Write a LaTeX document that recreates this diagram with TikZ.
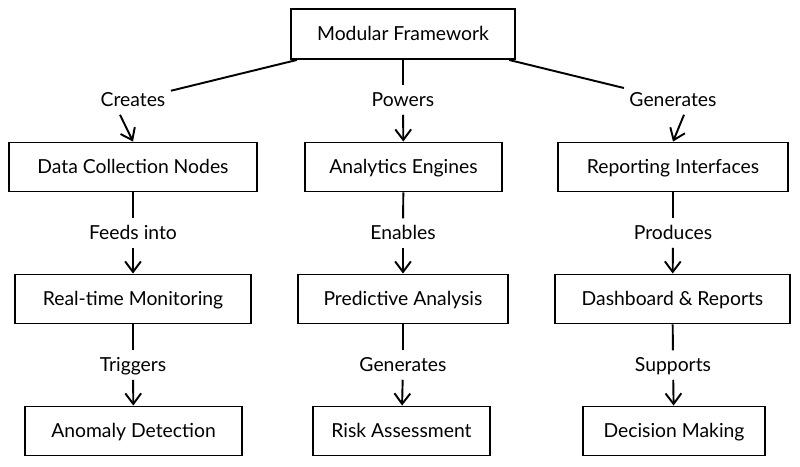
\documentclass[tikz,border=0pt]{standalone}
\usepackage{fontspec}
\setmainfont{Lato}
\usetikzlibrary{arrows.meta, positioning}

\begin{document}
\begin{tikzpicture}[
		font=\fontsize{11}{13}\selectfont,
		box/.style={draw, line width=1.1pt, minimum height=0.98cm, text height=1.8ex, text depth=0.25ex, align=center},
		lbl/.style={inner sep=3pt, fill=white, text height=1.8ex, text depth=0.25ex},
		link/.style={line width=1.1pt},
		arr/.style={line width=1.1pt, -{Straight Barb[length=6pt, width=9pt, line width=1.1pt]}}
	]
	\useasboundingbox (0,0) rectangle (16,-9.32);
	
	% Top node
	\node[box, minimum width=4.48cm, minimum height=1.0cm] (mf) at (8.06,-0.68) {Modular Framework};
	
	% First row
	\node[box, minimum width=4.96cm] (dc) at (2.66,-3.34) {Data Collection Nodes};
	\node[box, minimum width=3.94cm] (ae) at (8.07,-3.34) {Analytics Engines};
	\node[box, minimum width=4.60cm] (ri) at (13.46,-3.34) {Reporting Interfaces};
	
	% Second row
	\node[box, minimum width=4.72cm] (rm) at (2.66,-5.98) {Real-time Monitoring};
	\node[box, minimum width=4.20cm] (pa) at (8.06,-5.98) {Predictive Analysis};
	\node[box, minimum width=4.70cm] (dr) at (13.45,-5.98) {Dashboard \& Reports};
	
	% Third row
	\node[box, minimum width=4.34cm] (ad) at (2.67,-8.62) {Anomaly Detection};
	\node[box, minimum width=3.54cm] (ra) at (8.03,-8.62) {Risk Assessment};
	\node[box, minimum width=3.64cm] (dm) at (13.48,-8.62) {Decision Making};
	
	% Edge labels
	\node[lbl] (creates) at (2.66,-2.0) {Creates};
	\node[lbl] (powers) at (8.06,-2.0) {Powers};
	\node[lbl] (gen1) at (13.46,-2.0) {Generates};
	\node[lbl] (feeds) at (2.66,-4.66) {Feeds into};
	\node[lbl] (enables) at (8.06,-4.66) {Enables};
	\node[lbl] (produces) at (13.46,-4.66) {Produces};
	\node[lbl] (triggers) at (2.66,-7.3) {Triggers};
	\node[lbl] (gen2) at (8.06,-7.3) {Generates};
	\node[lbl] (supports) at (13.46,-7.3) {Supports};
	
	% Draw connectors from the top node
	\draw[link] (mf) -- (creates);
	\draw[arr] ([xshift=-0.26cm]creates.south) -- (dc.north);
	\draw[link] (mf) -- (powers);
	\draw[arr] (powers) -- (ae);
	\draw[link] (mf) -- (gen1);
	\draw[arr] ([xshift=0.22cm]gen1.south) -- (ri.north);
	
	% Draw connectors down the columns
	\draw[link] (dc) -- (feeds);
	\draw[arr] (feeds) -- (rm);
	\draw[link] (ae) -- (enables);
	\draw[arr] (enables) -- (pa);
	\draw[link] (ri) -- (produces);
	\draw[arr] (produces) -- (dr);
	
	\draw[link] (rm) -- (triggers);
	\draw[arr] (triggers) -- (ad);
	\draw[link] (pa) -- (gen2);
	\draw[arr] (gen2) -- (ra);
	\draw[link] (dr) -- (supports);
	\draw[arr] (supports) -- (dm);
\end{tikzpicture}
\end{document}
